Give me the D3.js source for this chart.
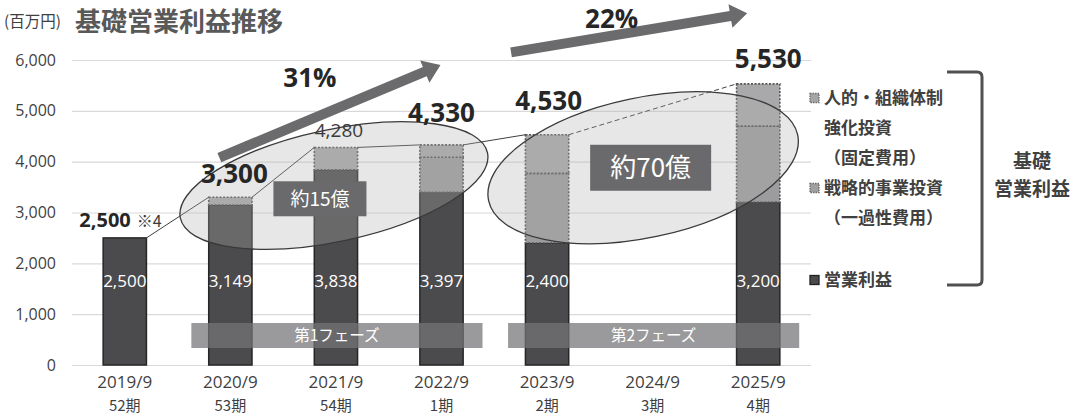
<!DOCTYPE html>
<html><head><meta charset="utf-8">
<script src="https://cdn.jsdelivr.net/npm/d3@7"></script>
<style>
html,body{margin:0;padding:0;background:#fff;}
svg{display:block;}
</style>
</head><body>
<svg id="chart" width="1075" height="416"></svg>
<script>
// ---- data ----
const categories = ["2019/9","2020/9","2021/9","2022/9","2023/9","2024/9","2025/9"];
const periods = ["52期","53期","54期","1期","2期","3期","4期"];
const operatingProfit = [2500,3149,3838,3397,2400,null,3200];
const strategicInvestment = [0,0,0,690,1370,null,1500];
const humanInvestment = [0,151,442,243,760,null,830];
const yTicks = [0,1000,2000,3000,4000,5000,6000];
const phaseLabels = ["第1フェーズ","第2フェーズ"];
const phaseStart = ["2020/9","2023/9"];
const phaseEnd = ["2022/9","2025/9"];
const growthLabels = ["31%","22%"];
const investLabels = ["約15億","約70億"];
const legendLines = ["人的・組織体制","強化投資","（固定費用）","戦略的事業投資","（一過性費用）","営業利益"];
const bracketLabel = ["基礎","営業利益"];

// ---- setup ----
const svg = d3.select("#chart");
const FONT = "'Open Sans','Noto Sans CJK JP',sans-serif";
const JP = "'Noto Sans CJK JP','Open Sans',sans-serif";
const x = d3.scaleBand().domain(categories).range([72,811]).paddingInner(0.59).paddingOuter(0.295);
const y = d3.scaleLinear().domain([0,6000]).range([365,60]);
const cx = c => x(c) + x.bandwidth()/2;
const bw = x.bandwidth();

const table = categories.map((c,i)=>({cat:c, op:operatingProfit[i]||0, strat:strategicInvestment[i]||0, human:humanInvestment[i]||0, has: operatingProfit[i]!=null}));
const keys = ["op","strat","human"];
const stacked = d3.stack().keys(keys)(table);
const totals = table.map(d=>d.has ? d.op+d.strat+d.human : null);

// gridlines
svg.append("g").selectAll("line").data(yTicks).join("line")
  .attr("x1",72).attr("x2",811).attr("y1",d=>y(d)+0.5).attr("y2",d=>y(d)+0.5)
  .attr("stroke","#d9d9d9").attr("stroke-width",1.2);

// y axis labels
const yAxis = svg.append("g").attr("transform","translate(56,0)")
  .call(d3.axisLeft(y).tickValues(yTicks).tickFormat(d3.format(",")).tickSize(0).tickPadding(0));
yAxis.select(".domain").remove();
yAxis.selectAll("text").attr("font-family",FONT).attr("font-size",16).attr("fill","#3f3f3f");

// x axis labels (two lines)
const xAxis = svg.append("g").call(d3.axisBottom(x).tickSize(0));
xAxis.select(".domain").remove();
xAxis.selectAll(".tick text").each(function(d,i){
  const t = d3.select(this).text(null).attr("y",0).attr("dy",null)
    .attr("font-family",FONT).attr("font-size",17).attr("fill","#3f3f3f");
  t.append("tspan").attr("x",0).attr("y",388).text(d);
  t.append("tspan").attr("x",0).attr("y",411).attr("font-family",JP).attr("font-size",15).text(periods[categories.indexOf(d)]);
});

// bars
const fills = {op:"#4b4b4d", strat:"#9c9c9e", human:"#a9a9ab"};
stacked.forEach(s=>{
  const k = s.key;
  svg.append("g").selectAll("rect").data(s.filter(d=>d.data.has && d[1]>d[0])).join("rect")
    .attr("x",d=>x(d.data.cat)).attr("width",bw)
    .attr("y",d=>y(d[1])).attr("height",d=>y(d[0])-y(d[1]))
    .attr("fill",fills[k])
    .attr("stroke", k==="op" ? "#262626" : "#555")
    .attr("stroke-width", k==="op" ? 1.5 : 1.6)
    .attr("stroke-dasharray", k==="op" ? null : "2,1.6");
});

// series lines connecting totals
const idx = totals.map((t,i)=>t!=null?i:-1).filter(i=>i>=0);
for(let j=0;j<idx.length-1;j++){
  const a = idx[j], b = idx[j+1];
  svg.append("line")
    .attr("x1",x(categories[a])+bw).attr("y1",y(totals[a]))
    .attr("x2",x(categories[b])).attr("y2",y(totals[b]))
    .attr("stroke","#404040").attr("stroke-width",1)
    .attr("stroke-dasharray", b-a>1 ? "5,3" : null);
}

// ellipses (translucent)
const ell = [
  {x: cx("2021/9")-2, y: y(3530), rx:157, ry:56},
  {x: cx("2024/9")-9.5, y: y(3880), rx:158, ry:70}
];
svg.append("g").selectAll("ellipse").data(ell).join("ellipse")
  .attr("cx",0).attr("cy",0).attr("rx",d=>d.rx).attr("ry",d=>d.ry)
  .attr("transform",d=>`translate(${d.x},${d.y}) rotate(-12)`)
  .attr("fill","rgba(175,175,175,0.3)").attr("stroke","#3a3a3a").attr("stroke-width",1.3);

// inner labels
svg.append("g").selectAll("text").data(table.filter(d=>d.has)).join("text")
  .attr("x",d=>cx(d.cat)).attr("y",y(1660)+6).attr("text-anchor","middle")
  .attr("font-family",FONT).attr("font-size",17).attr("fill","#fff")
  .text(d=>d3.format(",")(d.op));

// total labels
const tStyle = [
  {dx:6, dy:-11, size:20, weight:700, anchor:"end", color:"#262626"},
  {dx:4, dy:-14, size:26, weight:700, anchor:"middle", color:"#262626"},
  {dx:3, dy:-10, size:19, weight:400, anchor:"middle", color:"#3a3a3a"},
  {dx:0, dy:-23, size:26, weight:700, anchor:"middle", color:"#262626"},
  {dx:1.5, dy:-25, size:26, weight:700, anchor:"middle", color:"#262626"},
  null,
  {dx:10, dy:-16, size:26, weight:700, anchor:"middle", color:"#262626"}
];
totals.forEach((t,i)=>{
  if(t==null) return;
  const s = tStyle[i];
  svg.append("text").attr("x",cx(categories[i])+s.dx).attr("y",y(t)+s.dy)
    .attr("text-anchor",s.anchor).attr("font-family",FONT).attr("font-size",s.size)
    .attr("font-weight",s.weight).attr("fill",s.color).text(d3.format(",")(t));
  if(i===0){
    svg.append("text").attr("x",cx(categories[i])+s.dx+6).attr("y",y(t)+s.dy)
      .attr("font-family",JP).attr("font-size",16).attr("fill","#3a3a3a").text("※4");
  }
});

// invest boxes
const boxes = [
  {x: cx("2021/9")-16, y: y(3270), w:93, h:35, fs:19},
  {x: cx("2024/9")-2, y: y(3880), w:121, h:46, fs:26}
];
boxes.forEach((b,i)=>{
  svg.append("rect").attr("x",b.x-b.w/2).attr("y",b.y-b.h/2).attr("width",b.w).attr("height",b.h).attr("fill","#6a6a6c");
  svg.append("text").attr("x",b.x).attr("y",b.y).attr("dy","0.36em").attr("text-anchor","middle")
    .attr("font-family",JP).attr("font-size",b.fs).attr("fill","#fff").text(investLabels[i]);
});

// phase bands
phaseLabels.forEach((p,i)=>{
  const x0 = cx(phaseStart[i])-39, x1 = cx(phaseEnd[i])+41;
  svg.append("rect").attr("x",x0).attr("y",323).attr("width",x1-x0).attr("height",25)
    .attr("fill","rgba(117,117,119,0.73)");
  svg.append("text").attr("x",(x0+x1)/2).attr("y",335.5).attr("dy","0.36em").attr("text-anchor","middle")
    .attr("font-family",JP).attr("font-size",15.5).attr("fill","#fff").text(p);
});

// growth arrows
function arrow(S,T){
  const L = Math.hypot(T[0]-S[0],T[1]-S[1]);
  const u=[(T[0]-S[0])/L,(T[1]-S[1])/L], n=[-u[1],u[0]];
  const hw=5, hl=17, hh=12;
  const B=[T[0]-u[0]*hl, T[1]-u[1]*hl];
  const p=(P,k)=>[P[0]+n[0]*k, P[1]+n[1]*k];
  return [p(S,hw),p(B,hw),p(B,hh),T,p(B,-hh),p(B,-hw),p(S,-hw)];
}
const arrows = [
  {s:[cx("2020/9")-11, y(4080)], t:[cx("2022/9")-1, y(5900)]},
  {s:[cx("2023/9")-36, y(6150)], t:[cx("2025/9")-11, y(6920)]}
];
arrows.forEach(a=>{
  svg.append("polygon").attr("points",arrow(a.s,a.t).map(p=>p.join(",")).join(" ")).attr("fill","#6b6b6d");
});
const gPos = [{x:cx("2021/9")-26, y:y(5470)},{x:cx("2024/9")-41, y:y(6630)}];
growthLabels.forEach((g,i)=>{
  svg.append("text").attr("x",gPos[i].x).attr("y",gPos[i].y).attr("text-anchor","middle")
    .attr("font-family",FONT).attr("font-size",26).attr("font-weight",700).attr("fill","#262626").text(g);
});

// title
svg.append("text").attr("x",4).attr("y",27).attr("font-family",JP).attr("font-size",15.5).attr("fill","#404040").text("(百万円)");
svg.append("text").attr("x",75).attr("y",31).attr("font-family",JP).attr("font-size",26).attr("font-weight",700).attr("fill","#595959").text("基礎営業利益推移");

// legend
const lg = svg.append("g").attr("font-family",JP).attr("font-size",17).attr("font-weight",700).attr("fill","#404040");
const rowY = [98,128,158,188,218,280];
legendLines.forEach((t,i)=>{
  lg.append("text").attr("x",824).attr("y",rowY[i]).attr("dy","0.36em").text(t);
});
[[0,"#a6a6a8","#6a6a6a",true],[3,"#a0a0a2","#6a6a6a",true],[5,"#4b4b4d","#222",false]].forEach(([r,f,s,dot])=>{
  svg.append("rect").attr("x",810).attr("y",rowY[r]-4.5).attr("width",9).attr("height",9)
    .attr("fill",f).attr("stroke",s).attr("stroke-width",1.3).attr("stroke-dasharray",dot?"1.5,1":null);
});
// bracket
svg.append("path").attr("d","M947,72 L977,72 Q982,72 982,77 L982,280 Q982,285 977,285 L947,285")
  .attr("fill","none").attr("stroke","#505050").attr("stroke-width",3);
bracketLabel.forEach((t,i)=>{
  svg.append("text").attr("x",1032).attr("y",i?196:168).attr("text-anchor","middle")
    .attr("font-family",JP).attr("font-size",19).attr("font-weight",700).attr("fill","#404040").text(t);
});
</script>
</body></html>
